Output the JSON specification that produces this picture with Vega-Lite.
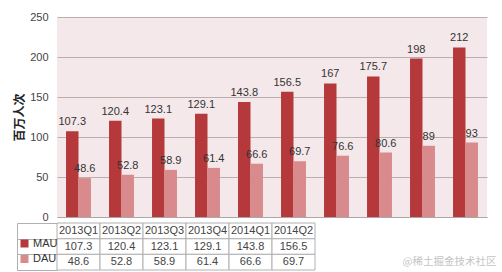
{
  "$schema": "https://vega.github.io/schema/vega-lite/v6.json",
  "padding": {"left": 13, "top": 11, "right": 0, "bottom": 0},
  "background": "white",
  "config": {
    "font": "Liberation Sans",
    "view": {"stroke": null},
    "legend": {
      "orient": "none",
      "legendX": -38,
      "legendY": 221,
      "direction": "vertical",
      "title": null,
      "symbolType": "square",
      "symbolSize": 64,
      "symbolStrokeWidth": 0,
      "labelFontSize": 11,
      "labelColor": "#333333",
      "labelOffset": 3,
      "rowPadding": 3.5
    }
  },
  "datasets": {
    "main": [
      {"q": "2013Q1", "series": "MAU", "value": 107.3},
      {"q": "2013Q2", "series": "MAU", "value": 120.4},
      {"q": "2013Q3", "series": "MAU", "value": 123.1},
      {"q": "2013Q4", "series": "MAU", "value": 129.1},
      {"q": "2014Q1", "series": "MAU", "value": 143.8},
      {"q": "2014Q2", "series": "MAU", "value": 156.5},
      {"q": "2014Q3", "series": "MAU", "value": 167},
      {"q": "2014Q4", "series": "MAU", "value": 175.7},
      {"q": "2015Q1", "series": "MAU", "value": 198},
      {"q": "2015Q2", "series": "MAU", "value": 212},
      {"q": "2013Q1", "series": "DAU", "value": 48.6},
      {"q": "2013Q2", "series": "DAU", "value": 52.8},
      {"q": "2013Q3", "series": "DAU", "value": 58.9},
      {"q": "2013Q4", "series": "DAU", "value": 61.4},
      {"q": "2014Q1", "series": "DAU", "value": 66.6},
      {"q": "2014Q2", "series": "DAU", "value": 69.7},
      {"q": "2014Q3", "series": "DAU", "value": 76.6},
      {"q": "2014Q4", "series": "DAU", "value": 80.6},
      {"q": "2015Q1", "series": "DAU", "value": 89},
      {"q": "2015Q2", "series": "DAU", "value": 93}
    ]
  },
  "spacing": 0,
  "resolve": {"scale": {"x": "independent", "y": "independent"}},
  "vconcat": [
    {
      "width": 430,
      "height": 200,
      "view": {"fill": "#f5e8ea", "stroke": null},
      "data": {"name": "main"},
      "encoding": {
        "x": {
          "field": "q", "type": "nominal", "sort": null,
          "scale": {"paddingInner": 0.42, "paddingOuter": 0.21},
          "axis": {"labels": false, "ticks": false, "domain": true, "domainColor": "#a8a8a8", "title": null, "grid": false}
        },
        "xOffset": {"field": "series", "type": "nominal", "sort": ["MAU", "DAU"], "scale": {"domain": ["MAU", "DAU"], "paddingInner": 0, "paddingOuter": 0}},
        "y": {
          "field": "value", "type": "quantitative",
          "scale": {"domain": [0, 250], "nice": false},
          "axis": {
            "values": [0, 50, 100, 150, 200, 250],
            "grid": true, "gridColor": "#bcaeae", "gridWidth": 1,
            "domain": false, "ticks": false,
            "labelPadding": 9, "labelFontSize": 11, "labelColor": "#444444",
            "title": "百万人次", "titleFont": "Noto Sans CJK SC", "titleFontWeight": "bold",
            "titleFontSize": 12, "titleColor": "#222222", "titlePadding": 3
          }
        }
      },
      "layer": [
        {
          "mark": {"type": "bar"},
          "encoding": {
            "color": {
              "field": "series", "type": "nominal",
              "scale": {"domain": ["MAU", "DAU"], "range": ["#b5383b", "#d98a8d"]},
              "legend": {}
            }
          }
        },
        {
          "mark": {"type": "text", "baseline": "bottom", "dy": -4, "fontSize": 11, "color": "#333333"},
          "encoding": {"text": {"field": "value", "type": "quantitative"}}
        }
      ]
    },
    {
      "width": 430,
      "height": 47,
      "data": {"name": "main"},
      "transform": [{"filter": {"field": "q", "oneOf": ["2013Q1", "2013Q2", "2013Q3", "2013Q4", "2014Q1", "2014Q2"]}}],
      "encoding": {
        "x": {
          "field": "q", "type": "nominal", "sort": null,
          "scale": {"domain": ["2013Q1", "2013Q2", "2013Q3", "2013Q4", "2014Q1", "2014Q2", "2014Q3", "2014Q4", "2015Q1", "2015Q2"], "paddingInner": 0, "paddingOuter": 0},
          "axis": null
        }
      },
      "layer": [
        {
          "mark": {"type": "rect", "fill": "white", "stroke": "#b0b0b0", "strokeWidth": 1},
          "encoding": {
            "y": {
              "field": "series", "type": "nominal",
              "scale": {"domain": ["hdr", "MAU", "DAU"], "paddingInner": 0, "paddingOuter": 0},
              "axis": {
                "labels": false, "title": null, "domain": true, "domainColor": "#b0b0b0",
                "ticks": true, "tickBand": "extent", "tickSize": -40, "tickColor": "#b0b0b0",
                "offset": 40, "grid": false
              }
            }
          }
        },
        {
          "transform": [{"filter": "datum.series === 'MAU'"}],
          "mark": {"type": "rect", "fill": "white", "stroke": "#b0b0b0", "strokeWidth": 1},
          "encoding": {"y": {"datum": "hdr", "type": "nominal"}}
        },
        {
          "mark": {"type": "text", "fontSize": 11, "color": "#444444"},
          "encoding": {
            "y": {"field": "series", "type": "nominal"},
            "text": {"field": "value", "type": "quantitative"}
          }
        },
        {
          "transform": [{"filter": "datum.series === 'MAU'"}],
          "mark": {"type": "text", "fontSize": 11, "color": "#444444"},
          "encoding": {
            "y": {"datum": "hdr", "type": "nominal"},
            "text": {"field": "q", "type": "nominal"}
          }
        },
        {
          "transform": [{"filter": "datum.series === 'DAU' && datum.q === '2014Q2'"}],
          "mark": {"type": "text", "fontSize": 10.5, "font": "Noto Sans CJK SC", "color": "#c4c4c4", "align": "right", "dx": 203},
          "encoding": {
            "y": {"datum": "DAU", "type": "nominal"},
            "text": {"value": "@稀土掘金技术社区"}
          }
        }
      ]
    }
  ]
}
